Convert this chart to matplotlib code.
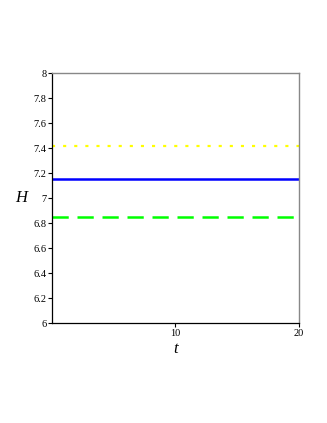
import numpy as np
import matplotlib
matplotlib.use("Agg")
import matplotlib.pyplot as plt

# horizontal levels
t = [0, 20]
H_top = [7.42, 7.42]
H_mid = [7.15, 7.15]
H_low = [6.85, 6.85]
yticks = [6, 6.2, 6.4, 6.6, 6.8, 7, 7.2, 7.4, 7.6, 7.8, 8]
ytick_labels = ['6', '6.2', '6.4', '6.6', '6.8', '7', '7.2', '7.4', '7.6', '7.8', '8']
xticks = [10, 20]

plt.rcParams['font.family'] = ['Liberation Serif', 'DejaVu Serif']

fig = plt.figure(figsize=(3.27, 4.23), dpi=100)
ax = fig.add_axes([0.159, 0.236, 0.755, 0.591])

ax.plot(t, H_top, color='#ffff00', lw=1.6, linestyle=(0, (1.4, 3.6)))
ax.plot(t, H_mid, color='#0000ff', lw=1.8)
ax.plot(t, H_low, color='#00ff00', lw=1.8, linestyle=(0, (6.5, 3.5)))

ax.set_xlim(0, 20)
ax.set_ylim(6, 8)
ax.set_xticks(xticks)
ax.set_yticks(yticks)
ax.set_yticklabels(ytick_labels)
ax.tick_params(labelsize=7.5, length=3, width=0.8, pad=1)

for s in ['left', 'bottom']:
    ax.spines[s].set_color('black')
    ax.spines[s].set_linewidth(0.9)
for s in ['right', 'top']:
    ax.spines[s].set_color('#888888')
    ax.spines[s].set_linewidth(1.0)

ax.set_xlabel('t', fontstyle='italic', fontsize=12, labelpad=2)
ax.set_ylabel('H', fontstyle='italic', fontsize=12, rotation=0, labelpad=9, va='center')

fig.savefig('out.png', dpi=100)
